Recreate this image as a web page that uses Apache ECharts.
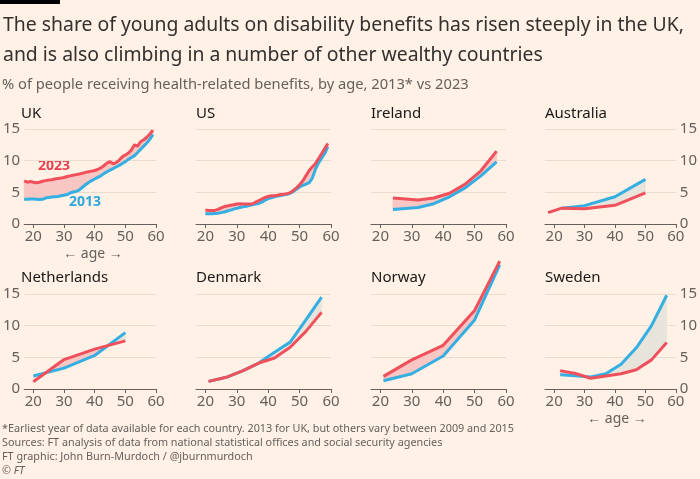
<!DOCTYPE html>
<html>
<head>
<meta charset="utf-8">
<script src="https://cdn.jsdelivr.net/npm/echarts@6/dist/echarts.min.js"></script>
<style>
html,body{margin:0;padding:0;background:#fff1e5;}
#c{width:700px;height:479px;}
</style>
</head>
<body>
<div id="c"></div>
<script>
// ---------- data ----------
const countries = ['UK','US','Ireland','Australia','Netherlands','Denmark','Norway','Sweden'];
const xTicks = [20,30,40,50,60];
const yTicks = [0,5,10,15];

const ukAges = [17,18,19,20,21,22,23,24,25,26,27,28,29,30,31,32,33,34,35,36,37,38,39,40,41,42,43,44,45,46,47,48,49,50,51,52,53,54,55,56,57,58,59];
const uk2013 = [3.9,3.9,3.95,3.95,3.9,3.85,3.9,4.1,4.2,4.25,4.3,4.35,4.45,4.55,4.65,4.9,5.05,5.15,5.4,5.8,6.2,6.55,6.85,7.1,7.35,7.6,7.95,8.25,8.5,8.75,9.0,9.25,9.55,9.85,10.2,10.5,10.8,11.3,11.8,12.3,12.8,13.4,14.1];
const uk2023 = [6.8,6.6,6.7,6.6,6.5,6.6,6.75,6.85,6.95,7.0,7.1,7.2,7.25,7.35,7.5,7.6,7.7,7.8,7.9,8.0,8.15,8.25,8.35,8.45,8.6,8.85,9.2,9.6,9.85,9.5,9.7,10.1,10.6,10.9,11.2,11.7,12.5,12.3,13.0,13.3,13.7,14.2,14.8];

const usAges = [20,21,22,23,24,25,26,27,28,29,30,31,32,33,34,35,36,37,38,39,40,41,42,43,44,45,46,47,48,49,50,51,52,53,54,55,56,57,58,59];
const usEarly = [1.6,1.6,1.6,1.65,1.7,1.8,1.9,2.05,2.2,2.35,2.5,2.6,2.7,2.8,2.9,3.05,3.15,3.25,3.45,3.75,4.0,4.15,4.3,4.4,4.5,4.6,4.7,4.85,5.1,5.5,5.85,6.1,6.3,6.5,7.2,8.6,9.6,10.4,11.1,12.2];
const us2023 = [2.2,2.15,2.15,2.15,2.3,2.55,2.75,2.85,2.95,3.05,3.15,3.2,3.15,3.15,3.15,3.2,3.45,3.7,3.95,4.2,4.35,4.45,4.45,4.55,4.65,4.7,4.8,4.95,5.3,5.7,6.2,6.8,7.6,8.4,9.0,9.5,10.3,11.1,11.9,12.7];

const ieAges = [24,32,37,42,47,52,57];
const ieEarly = [2.3,2.6,3.2,4.3,5.7,7.6,9.8];
const ie2023 = [4.1,3.8,4.1,4.85,6.3,8.4,11.5];

const auAges = [18,22.5,30,40,50];
const auEarly = [null,2.5,2.9,4.3,7.05];
const au2023 = [1.8,2.5,2.4,2.95,4.9];

const nlAges = [20,30,40,50];
const nlEarly = [2.05,3.3,5.3,8.9];
const nl2023 = [1.15,4.65,6.3,7.6];

const dkAges = [21,27,32,37,42,47,52,57];
const dkEarly = [1.2,1.9,2.9,4.1,5.8,7.4,10.9,14.5];
const dk2023 = [1.2,1.9,2.9,4.1,4.9,6.6,9.1,12.1];

const noAges = [21,30,40,50,58];
const noEarly = [1.3,2.4,5.2,10.9,19.6];
const no2023 = [2.0,4.6,6.9,12.4,20.2];

const seAges = [22,27,32,37,42,47,52,57];
const seEarly = [2.25,2.1,1.9,2.4,3.9,6.5,10.0,14.8];
const se2023 = [2.9,2.45,1.7,2.05,2.4,3.05,4.6,7.35];

const panelAges = [ukAges,usAges,ieAges,auAges,nlAges,dkAges,noAges,seAges];
const panelEarly = [uk2013,usEarly,ieEarly,auEarly,nlEarly,dkEarly,noEarly,seEarly];
const panelLate = [uk2023,us2023,ie2023,au2023,nl2023,dk2023,no2023,se2023];

// ---------- style ----------
const RED = '#f0505c';
const BLUE = '#35aee2';
const PINK = '#f8c6c3';
const GREYFILL = '#e7e4db';
const TXT = '#66605c';
const GRID = '#eadccf';
const FONT = '"Noto Sans", sans-serif';

const colLeft = [21,196,371,545];
const rowTop = [129,294];
const W = 135, H = 95;

const grids = [], xAxes = [], yAxes = [], series = [];

function zip(a, v){ return a.map((x,i)=> v[i]==null ? null : [x, v[i]]).filter(d=>d); }

function fillData(a, r, b){
  const out = [];
  for (let i=0;i<a.length-1;i++){
    if (r[i]==null||r[i+1]==null||b[i]==null||b[i+1]==null) continue;
    out.push([a[i],a[i+1],r[i],r[i+1],b[i],b[i+1]]);
  }
  return out;
}

function renderFill(params, api){
  const a0=api.value(0), a1=api.value(1), r0=api.value(2), r1=api.value(3), b0=api.value(4), b1=api.value(5);
  const p = (a,v)=>api.coord([a,v]);
  const d0 = r0-b0, d1 = r1-b1;
  const kids = [];
  const poly = (pts, d)=>{
    const c = d>=0?PINK:GREYFILL;
    return {type:'polygon', shape:{points:pts}, style:{fill:c, stroke:c, lineWidth:0.8}, silent:true};
  };
  if (d0*d1 >= 0){
    kids.push(poly([p(a0,r0),p(a1,r1),p(a1,b1),p(a0,b0)], d0+d1));
  } else {
    const t = d0/(d0-d1);
    const ac = a0+t*(a1-a0), vc = r0+t*(r1-r0);
    kids.push(poly([p(a0,r0),p(ac,vc),p(a0,b0)], d0));
    kids.push(poly([p(ac,vc),p(a1,r1),p(a1,b1)], d1));
  }
  return {type:'group', children:kids};
}

for (let i=0;i<8;i++){
  const col=i%4, row=Math.floor(i/4);
  grids.push({left:colLeft[col], top:rowTop[row], width:W, height:H});
  xAxes.push({
    type:'value', gridIndex:i, min:17, max:60,
    axisLine:{show:true, lineStyle:{color:'#66605c', width:1}},
    axisTick:{show:true, customValues:xTicks, length:4, lineStyle:{color:'#66605c'}},
    axisLabel:{show:true, customValues:xTicks, color:TXT, fontSize:15, fontFamily:FONT, margin:5},
    splitLine:{show:false}
  });
  yAxes.push({
    type:'value', gridIndex:i, min:0, max:15, interval:5,
    position: col===3 ? 'right' : 'left',
    axisLine:{show:false}, axisTick:{show:false},
    axisLabel:{show: col===0||col===3, color:TXT, fontSize:15, fontFamily:FONT, margin:4},
    splitLine:{show:true, lineStyle:{color:GRID, width:1}}
  });
  series.push({
    type:'custom', xAxisIndex:i, yAxisIndex:i, clip:false, silent:true, z:1,
    encode:{x:[0,1], y:[2,3,4,5]},
    renderItem: renderFill,
    data: fillData(panelAges[i], panelLate[i], panelEarly[i])
  });
  series.push({
    type:'line', xAxisIndex:i, yAxisIndex:i, clip:false, silent:true, z:3,
    showSymbol:false, symbol:'none',
    lineStyle:{color:BLUE, width:3}, itemStyle:{color:BLUE},
    data: zip(panelAges[i], panelEarly[i])
  });
  series.push({
    type:'line', xAxisIndex:i, yAxisIndex:i, clip:false, silent:true, z:4,
    showSymbol:false, symbol:'none',
    lineStyle:{color:RED, width:3}, itemStyle:{color:RED},
    data: zip(panelAges[i], panelLate[i])
  });
}

const FOOT = '10.8px '+FONT;
const graphics = [
  {type:'rect', shape:{x:0,y:0,width:60,height:4}, style:{fill:'#000'}},
  {type:'text', x:3, y:25, style:{text:'The share of young adults on disability benefits has risen steeply in the UK,', font:'19.4px '+FONT, fill:'#33302e', textVerticalAlign:'middle'}},
  {type:'text', x:3, y:55, style:{text:'and is also climbing in a number of other wealthy countries', font:'19.4px '+FONT, fill:'#33302e', textVerticalAlign:'middle'}},
  {type:'text', x:2, y:85, style:{text:'% of people receiving health-related benefits, by age, 2013* vs 2023', font:'14.7px '+FONT, fill:TXT, textVerticalAlign:'middle'}},
  {type:'text', x:54, y:166, style:{text:'2023', font:'bold 14px '+FONT, fill:'#e8414f', textAlign:'center', textVerticalAlign:'middle'}},
  {type:'text', x:85, y:202, style:{text:'2013', font:'bold 14px '+FONT, fill:'#2ea6dc', textAlign:'center', textVerticalAlign:'middle'}},
  {type:'text', x:93, y:254, style:{text:'← age →', font:'14px '+FONT, fill:TXT, textAlign:'center', textVerticalAlign:'middle'}},
  {type:'text', x:617, y:419, style:{text:'← age →', font:'14px '+FONT, fill:TXT, textAlign:'center', textVerticalAlign:'middle'}},
  {type:'text', x:2, y:429, style:{text:'*Earliest year of data available for each country. 2013 for UK, but others vary between 2009 and 2015', font:FOOT, fill:TXT, textVerticalAlign:'middle'}},
  {type:'text', x:2, y:443, style:{text:'Sources: FT analysis of data from national statistical offices and social security agencies', font:FOOT, fill:TXT, textVerticalAlign:'middle'}},
  {type:'text', x:2, y:457, style:{text:'FT graphic: John Burn-Murdoch / @jburnmurdoch', font:FOOT, fill:TXT, textVerticalAlign:'middle'}},
  {type:'text', x:2, y:471, style:{text:'© FT', font:'italic '+FOOT, fill:TXT, textVerticalAlign:'middle'}}
];
for (let i=0;i<8;i++){
  const col=i%4, row=Math.floor(i/4);
  graphics.push({type:'text', x:colLeft[col], y:[114,278][row], style:{text:countries[i], font:'15px '+FONT, fill:'#1a1817', textVerticalAlign:'middle'}});
}

const chart = echarts.init(document.getElementById('c'), null, {renderer:'canvas'});
chart.setOption({
  backgroundColor:'#fff1e5',
  animation:false,
  grid:grids, xAxis:xAxes, yAxis:yAxes, series:series,
  graphic:graphics
});
</script>
</body>
</html>
